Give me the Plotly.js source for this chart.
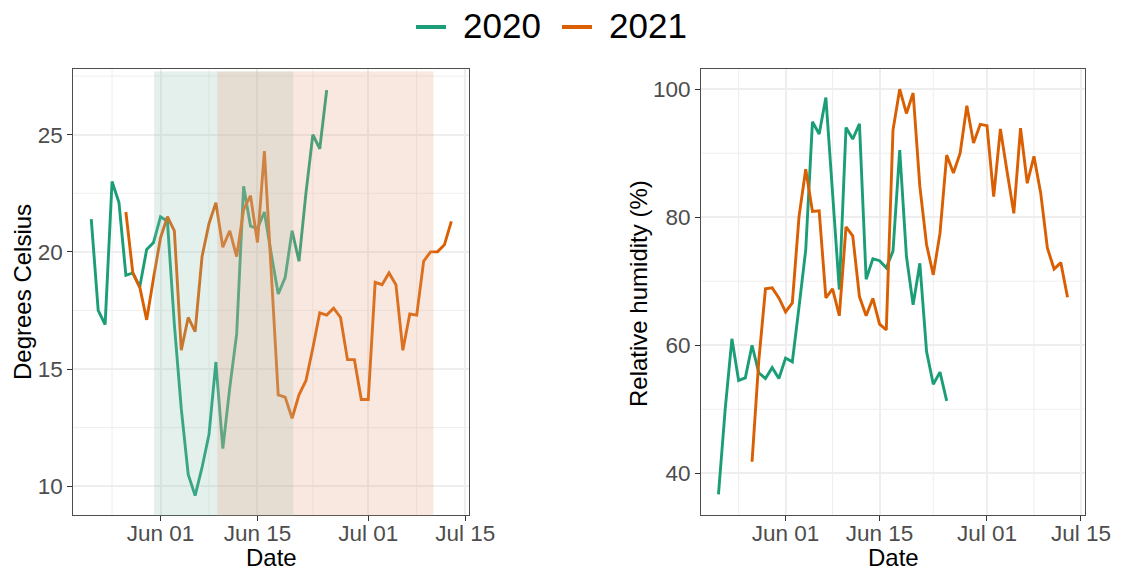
<!DOCTYPE html>
<html>
<head>
<meta charset="utf-8">
<script src="https://cdn.plot.ly/plotly-3.0.1.min.js"></script>
<style>
  html, body { margin: 0; padding: 0; background: #ffffff; }
  #chart { width: 1122px; height: 571px; }
</style>
</head>
<body>
<div id="chart"></div>
<script>
// Both seasons are drawn on one shared calendar so they can be compared day by day.
const AXIS_YEAR = 2021;

// Daily series, first day of each season (month-day)
const start2020 = '05-22';
const start2021 = '05-27';

// Mean daily air temperature (°C)
const temp2020 = [21.4, 17.5, 16.9, 23.0, 22.1, 19.0, 19.1, 18.5, 20.1, 20.4,
                  21.5, 21.3, 16.9, 13.3, 10.5, 9.6, 10.8, 12.2, 15.3, 11.6,
                  14.2, 16.5, 22.8, 21.1, 21.0, 21.7, 19.9, 18.2, 18.9, 20.9,
                  19.6, 22.5, 25.0, 24.4, 26.9];
const temp2021 = [21.7, 19.1, 18.5, 17.1, 18.9, 20.6, 21.5, 20.9, 15.8, 17.2,
                  16.6, 19.8, 21.2, 22.1, 20.2, 20.9, 19.8, 21.8, 22.4, 20.4,
                  24.3, 19.2, 13.9, 13.8, 12.9, 13.9, 14.5, 15.9, 17.4, 17.3,
                  17.6, 17.2, 15.4, 15.4, 13.7, 13.7, 18.7, 18.6, 19.1, 18.6,
                  15.8, 17.35, 17.3, 19.6, 20.0, 20.0, 20.3, 21.3];

// Mean daily relative humidity (%)
const rh2020 = [36.7, 50.0, 61.0, 54.5, 54.9, 60.0, 55.7, 54.8, 56.5, 54.8,
                58.0, 57.4, 66.0, 74.9, 94.9, 93.0, 98.7, 83.8, 68.7, 94.0,
                92.2, 94.6, 70.3, 73.5, 73.2, 72.1, 74.7, 90.5, 73.9, 66.3,
                72.8, 59.0, 53.9, 55.8, 51.3];
const rh2021 = [41.8, 57.5, 68.8, 68.95, 67.4, 65.2, 66.6, 80.1, 87.5, 80.9,
                81.0, 67.4, 68.8, 64.6, 78.5, 77.1, 67.6, 64.6, 67.3, 63.3,
                62.4, 93.6, 100.0, 96.2, 99.4, 84.8, 75.7, 71.0, 77.5, 89.7,
                86.9, 90.0, 97.4, 91.6, 94.5, 94.3, 83.2, 93.8, 87.1, 80.6,
                93.9, 85.3, 89.5, 83.8, 75.2, 71.9, 72.9, 67.5];

// Highlighted periods (start, end) for each season
const period2020 = ['05-31 02:00', '06-20 04:00'];
const period2021 = ['06-09 05:00', '07-10 10:00'];

const seriesNames = ['2020', '2021'];
const seriesColors = ['#1B9E77', '#D95F02'];
const periodFills = ['rgba(147,195,179,0.25)', 'rgba(231,163,127,0.25)'];

const dateTicks = ['06-01', '06-15', '07-01', '07-15'];
const dateTickLabels = ['Jun 01', 'Jun 15', 'Jul 01', 'Jul 15'];
const dateMinor = ['05-25', '06-08', '06-23', '07-08'];
const dateRange = ['05-19 09:36', '07-15 14:24'];

const tempTicks = [10, 15, 20, 25];
const tempMinor = [12.5, 17.5, 22.5, 27.5];
const tempRange = [8.75, 27.79];
const rhTicks = [40, 60, 80, 100];
const rhMinor = [50, 70, 90];
const rhRange = [33.4, 103.1];

const FONT = 'Liberation Sans, Arial, sans-serif';
const MAJOR_GRID = '#EEEEEE';
const MINOR_GRID = '#EEEEEE';

function onAxis(md) { return AXIS_YEAR + '-' + md; }
function dailyDates(start, n) {
  const [m, d] = start.split('-').map(Number);
  const out = [];
  for (let i = 0; i < n; i++) {
    out.push(new Date(Date.UTC(AXIS_YEAR, m - 1, d + i)).toISOString().slice(0, 10));
  }
  return out;
}

function lineTrace(start, values, idx, xa, ya) {
  return {
    type: 'scatter', mode: 'lines',
    name: seriesNames[idx],
    x: dailyDates(start, values.length), y: values,
    xaxis: xa, yaxis: ya,
    line: { color: seriesColors[idx], width: 2.9 },
    showlegend: false, hoverinfo: 'skip'
  };
}

const traces = [
  lineTrace(start2020, temp2020, 0, 'x', 'y'),
  lineTrace(start2021, temp2021, 1, 'x', 'y'),
  lineTrace(start2020, rh2020, 0, 'x2', 'y2'),
  lineTrace(start2021, rh2021, 1, 'x2', 'y2')
];

const axisCommon = {
  ticks: 'outside', ticklen: 5, tickwidth: 1, tickcolor: '#333333',
  showline: true, linecolor: '#4d4d4d', linewidth: 1, mirror: true,
  showgrid: true, gridcolor: MAJOR_GRID, gridwidth: 2,
  zeroline: false, fixedrange: true,
  tickfont: { family: FONT, size: 22.5, color: '#4D4D4D' }
};

function dateAxis(domain, anchor) {
  return Object.assign({}, axisCommon, {
    type: 'date', domain: domain, anchor: anchor,
    range: dateRange.map(onAxis),
    tickmode: 'array', tickvals: dateTicks.map(onAxis), ticktext: dateTickLabels,
    ticklabelstandoff: -7
  });
}
function valueAxis(domain, anchor, range, ticks) {
  return Object.assign({}, axisCommon, {
    domain: domain, anchor: anchor, range: range,
    tickmode: 'array', tickvals: ticks, ticktext: ticks.map(String)
  });
}

const yDomain = [0.0972, 0.8786];

// Minor grid lines halfway between the labelled breaks
function minorGrid(xref, yref, xVals, yVals) {
  const base = { type: 'line', layer: 'below', line: { color: MINOR_GRID, width: 1 } };
  const vert = xVals.map(v => Object.assign({}, base, {
    xref: xref, yref: yref + ' domain', x0: onAxis(v), x1: onAxis(v), y0: 0, y1: 1 }));
  const horiz = yVals.map(v => Object.assign({}, base, {
    xref: xref + ' domain', yref: yref, x0: 0, x1: 1, y0: v, y1: v }));
  return vert.concat(horiz);
}

// Shaded periods sit on top of the temperature lines
const periodShapes = [period2020, period2021].map((p, i) => ({
  type: 'rect', xref: 'x', yref: 'y domain',
  x0: onAxis(p[0]), x1: onAxis(p[1]), y0: 0, y1: 0.995,
  fillcolor: periodFills[i], line: { width: 0 }, layer: 'above'
}));

// Legend keys across the top
const legendKeyX = [[416, 446], [562, 592]];
const legendTextX = [461, 607];
const legendShapes = seriesNames.map((n, i) => ({
  type: 'line', xref: 'paper', yref: 'paper',
  x0: legendKeyX[i][0] / 1122, x1: legendKeyX[i][1] / 1122,
  y0: 1 - 27 / 571, y1: 1 - 27 / 571,
  line: { color: seriesColors[i], width: 4 }
}));
const legendLabels = seriesNames.map((n, i) => ({
  xref: 'paper', yref: 'paper', x: legendTextX[i] / 1122, y: 1 - 25 / 571,
  xanchor: 'left', yanchor: 'middle', showarrow: false, text: n,
  font: { family: FONT, size: 35, color: '#000000' }
}));

const titleFont = { family: FONT, size: 24, color: '#000000' };
const axisTitles = [
  { x: 271.3 / 1122, y: 1 - 557 / 571, text: 'Date', textangle: 0 },
  { x: 893 / 1122, y: 1 - 557 / 571, text: 'Date', textangle: 0 },
  { x: 22 / 1122, y: 1 - 292 / 571, text: 'Degrees Celsius', textangle: -90 },
  { x: 638 / 1122, y: 1 - 294 / 571, text: 'Relative humidity (%)', textangle: -90 }
].map(a => Object.assign({
  xref: 'paper', yref: 'paper', xanchor: 'center', yanchor: 'middle',
  showarrow: false, font: titleFont
}, a));

const layout = {
  width: 1122, height: 571,
  margin: { l: 0, r: 0, t: 0, b: 0 },
  paper_bgcolor: '#ffffff', plot_bgcolor: '#ffffff',
  showlegend: false,
  font: { family: FONT },
  xaxis: dateAxis([0.0653, 0.4183], 'y'),
  yaxis: valueAxis(yDomain, 'x', tempRange, tempTicks),
  xaxis2: dateAxis([0.6248, 0.9670], 'y2'),
  yaxis2: valueAxis(yDomain, 'x2', rhRange, rhTicks),
  shapes: minorGrid('x', 'y', dateMinor, tempMinor)
    .concat(minorGrid('x2', 'y2', dateMinor, rhMinor))
    .concat(periodShapes, legendShapes),
  annotations: legendLabels.concat(axisTitles)
};

Plotly.newPlot('chart', traces, layout, { displayModeBar: false, staticPlot: true });
</script>
</body>
</html>
